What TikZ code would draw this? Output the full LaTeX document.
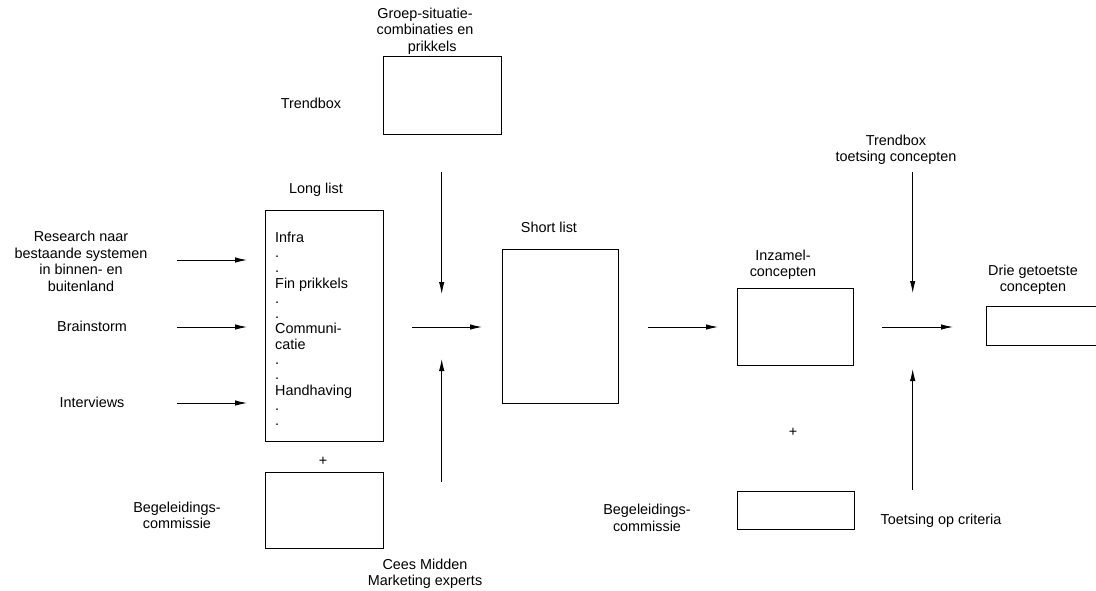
\documentclass[tikz,border=0pt]{standalone}
\usepackage{fontspec}
\setmainfont{Liberation Sans}
\usetikzlibrary{arrows.meta}
\begin{document}
\begin{tikzpicture}[x=1pt,y=-1pt,
  lbl/.style={align=center,inner sep=0pt,font=\fontsize{14.4}{16.5}\selectfont},
  box/.style={draw=black,line width=0.9pt,inner sep=0pt,anchor=north west},
  arr/.style={draw=black,line width=0.9pt,-{Latex[length=12pt,width=5.5pt]}}]
\clip (0,0) rectangle (1096,590);
\fill[white] (0,0) rectangle (1096,590);
% boxes
\node[box,minimum width=118pt,minimum height=78pt] (topbox) at (383,56) {};
\node[box,minimum width=118pt,minimum height=231pt] (longbox) at (265,210) {};
\node[box,minimum width=118pt,minimum height=76pt] (begbox) at (265,472) {};
\node[box,minimum width=116pt,minimum height=154pt] (shortbox) at (502,249) {};
\node[box,minimum width=116pt,minimum height=77pt] (inzbox) at (737,288) {};
\node[box,minimum width=117pt,minimum height=38pt] (begbox2) at (737,491) {};
\node[box,minimum width=130pt,minimum height=39pt] (driebox) at (986,306) {};
% labels
\node[lbl] (groep) at (425,31) {Groep-situatie-\\combinaties en\\\hspace*{1em}prikkels};
\node[lbl] (trend) at (311,103) {Trendbox};
\node[lbl] (longl) at (316,190) {Long list};
\node[lbl] (research) at (81,261.5) {Research naar\\bestaande systemen\\in binnen- en\\buitenland};
\node[lbl] (brain) at (92,326) {Brainstorm};
\node[lbl] (interv) at (92,402) {Interviews};
\node[anchor=north west,inner sep=0pt,align=left,font=\fontsize{14.4}{15.3}\selectfont] (items) at (275,231.5)
  {Infra\\.\\.\\Fin prikkels\\.\\.\\Communi-\\catie\\.\\.\\Handhaving\\.\\.};
\node[lbl] (plus1) at (323,461) {+};
\node[lbl] (beg1) at (177,515.5) {Begeleidings-\\commissie};
\node[lbl] (cees) at (425,574) {Cees Midden\\Marketing experts};
\node[lbl] (shortl) at (549,227) {Short list};
\node[lbl] (inzl) at (783,265) {Inzamel-\\concepten};
\node[lbl] (trend2) at (896,150) {Trendbox\\toetsing concepten};
\node[lbl] (drie) at (1033,280) {Drie getoetste\\concepten};
\node[lbl] (plus2) at (793,432) {+};
\node[lbl] (beg2) at (647,518) {Begeleidings-\\commissie};
\node[lbl] (toets) at (941,521) {Toetsing op criteria};
% arrow coordinates
\coordinate (a1s) at (177,260); \coordinate (a1e) at (247,260);
\coordinate (a2s) at (177,327); \coordinate (a2e) at (247,327);
\coordinate (a3s) at (177,403); \coordinate (a3e) at (247,403);
\coordinate (dns) at (441.7,172); \coordinate (dne) at (441.7,294);
\coordinate (ups) at (441.7,482); \coordinate (upe) at (441.7,359);
\coordinate (mrs) at (412,327); \coordinate (mre) at (482,327);
\coordinate (srs) at (648,327); \coordinate (sre) at (718,327);
\coordinate (rds) at (912.7,172); \coordinate (rde) at (912.7,293);
\coordinate (rus) at (912.7,490); \coordinate (rue) at (912.7,369);
\coordinate (rrs) at (882,327); \coordinate (rre) at (953,327);
\draw[arr] (a1s) -- (a1e);
\draw[arr] (a2s) -- (a2e);
\draw[arr] (a3s) -- (a3e);
\draw[arr] (dns) -- (dne);
\draw[arr] (ups) -- (upe);
\draw[arr] (mrs) -- (mre);
\draw[arr] (srs) -- (sre);
\draw[arr] (rds) -- (rde);
\draw[arr] (rus) -- (rue);
\draw[arr] (rrs) -- (rre);
\end{tikzpicture}
\end{document}
